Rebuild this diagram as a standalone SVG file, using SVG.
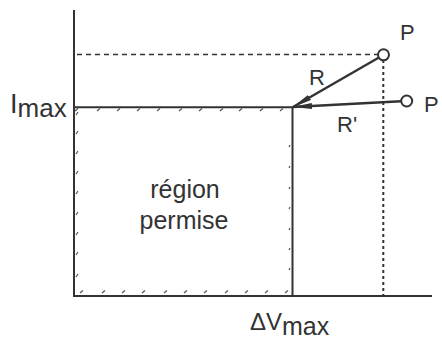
<svg xmlns="http://www.w3.org/2000/svg" width="442" height="341" viewBox="0 0 442 341">
<defs>
<style>
.ax{stroke:#333;stroke-width:2;fill:none}
.dash{stroke:#333;stroke-width:1.6;stroke-dasharray:5 4;fill:none}
.dot{stroke:#333;stroke-width:2;stroke-dasharray:3 3;fill:none}
.tk{stroke:#555;stroke-width:1.2;fill:none}
.t{font-family:"Liberation Sans",Arial,sans-serif;fill:#333}
.pt{fill:#fff;stroke:#333;stroke-width:2}
.vec{stroke:#333;stroke-width:2.4;fill:none}
</style>
<marker id="ah" viewBox="0 0 20 8" refX="19" refY="4" markerWidth="20" markerHeight="8" markerUnits="userSpaceOnUse" orient="auto">
<path d="M0,1 L20,4 L0,7 Z" fill="#333"/>
</marker>
</defs>
<g id="axes">
<path class="ax" d="M74,10 V296 H432"/>
</g>
<g id="region">
<path class="ax" d="M74,107.3 H292.5 V296"/>
<g class="tk">
<path d="M75,111 l3,-2.5 M97,111 l3,-2.5 M117,111 l3,-2.5 M137,111 l3,-2.5 M157,111 l3,-2.5 M179,111 l3,-2.5 M199,111 l3,-2.5 M220,111 l3,-2.5 M239,111 l3,-2.5 M260,111 l3,-2.5 M280,111 l3,-2.5"/>
<path d="M76,115 l2,-3 M76,134 l2,-3 M76,154 l2,-3 M76,174 l2,-3 M76,194 l2,-3 M76,215 l2,-3 M76,235 l2,-3 M76,255 l2,-3 M76,277 l2,-3"/>
<path d="M80,293 l3,-2.5 M102,293 l3,-2.5 M122,293 l3,-2.5 M142,293 l3,-2.5 M164,293 l3,-2.5 M184,293 l3,-2.5 M204,293 l3,-2.5 M225,293 l3,-2.5 M245,293 l3,-2.5 M265,293 l3,-2.5 M285,293 l3,-2.5"/>
<path d="M289,147 l1,-2 M289,168 l1,-2 M289,189 l1,-2 M289,209 l1,-2 M289,230 l1,-2 M289,250 l1,-2 M289,270 l1,-2"/>
</g>
<text class="t" x="185" y="198" font-size="25" text-anchor="middle">région</text>
<text class="t" x="184" y="229" font-size="25" text-anchor="middle">permise</text>
</g>
<g id="limits">
<path class="dash" d="M77,54.5 H378"/>
<path class="dot" d="M383.3,60 V296"/>
</g>
<g id="connectors">
<path class="vec" marker-end="url(#ah)" d="M378.5,57.8 L293,107"/>
<path class="vec" marker-end="url(#ah)" d="M401,101.3 L293,107"/>
</g>
<g id="P1">
<circle class="pt" cx="383.5" cy="54.8" r="5.5"/>
<text class="t" x="400" y="40" font-size="22">P</text>
</g>
<g id="P2">
<circle class="pt" cx="406.7" cy="101" r="5.5"/>
<text class="t" x="424" y="112" font-size="22">P</text>
</g>
<g id="labels">
<text class="t" x="309" y="85" font-size="22">R</text>
<text class="t" x="337" y="132" font-size="22">R'</text>
<text class="t" x="10" y="113" font-size="27">I<tspan dy="4" font-size="26">max</tspan></text>
<text class="t" x="250" y="330" font-size="24">ΔV<tspan dy="5" font-size="25">max</tspan></text>
</g>
</svg>
